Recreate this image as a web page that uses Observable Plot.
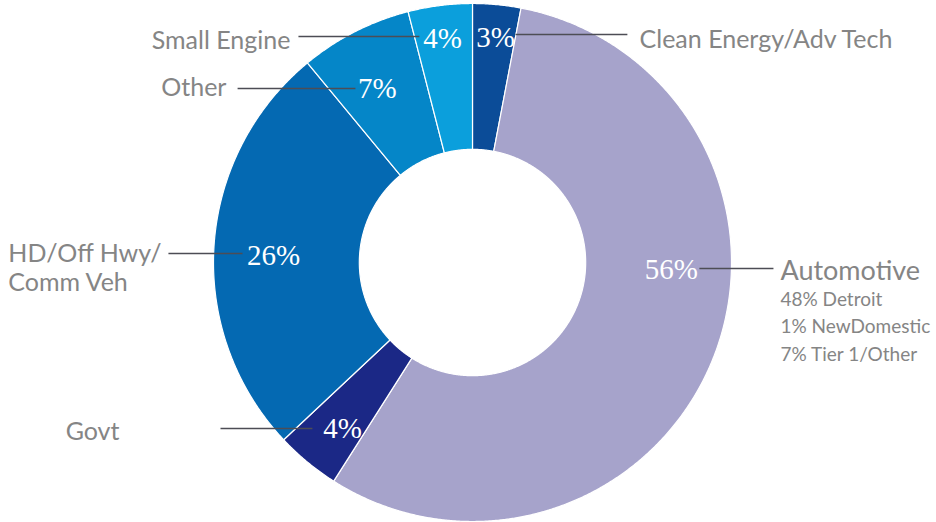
<!DOCTYPE html>
<html>
<head>
<meta charset="utf-8">
<script src="https://cdn.jsdelivr.net/npm/d3@7"></script>
<script src="https://cdn.jsdelivr.net/npm/@observablehq/plot@0.6"></script>
<style>
  html, body { margin: 0; padding: 0; background: #ffffff; }
  #chart svg { display: block; }
</style>
</head>
<body>
<div id="chart"></div>
<script>
// ---- Data (clockwise from 12 o'clock) ----
const categories = ["Clean Energy/Adv Tech", "Automotive", "Govt", "HD/Off Hwy/Comm Veh", "Other", "Small Engine"];
const shares = [3, 56, 4, 26, 7, 4];
const sliceColors = ["#0b4c98", "#a6a3cb", "#1b2886", "#0469b2", "#0586c8", "#0b9fdc"];
const automotiveSubNames = ["Detroit", "NewDomestic", "Tier 1/Other"];
const automotiveSubShares = [48, 1, 7];

// ---- Layout (unit-circle coordinates, outer radius = 1) ----
const innerRadius = 0.437;
const layout = {
  "Clean Energy/Adv Tech": {pct: [0.089, 0.869], line: [0.166, 0.598, 0.880], label: [0.645, 0.861], anchor: "start", lines: ["Clean Energy/Adv Tech"]},
  "Automotive":            {pct: [0.768, -0.029], line: [0.876, 1.162, -0.023], label: [1.189, -0.035], anchor: "start", lines: ["Automotive"]},
  "Govt":                  {pct: [-0.502, -0.641], line: [-0.973, -0.618, -0.641], label: [-1.363, -0.656], anchor: "end", lines: ["Govt"]},
  "HD/Off Hwy/Comm Veh":   {pct: [-0.768, 0.027], line: [-1.174, -0.888, 0.035], label: [-1.792, 0.031], anchor: "start", lines: ["HD/Off Hwy/", "Comm Veh"]},
  "Other":                 {pct: [-0.367, 0.672], line: [-0.907, -0.452, 0.672], label: [-0.950, 0.672], anchor: "end", lines: ["Other"]},
  "Small Engine":          {pct: [-0.116, 0.865], line: [-0.672, -0.205, 0.873], label: [-0.703, 0.857], anchor: "end", lines: ["Small Engine"]}
};
const lineStep = 0.112;      // vertical gap between stacked label lines (units)
const subStart = -0.143, subStep = -0.106;

// ---- Build slice polygons from the shares ----
const arcs = d3.pie().sort(null).value(d => d)(shares);
const slicePts = [];
arcs.forEach((a, i) => {
  const n = Math.max(4, Math.ceil((a.endAngle - a.startAngle) / 0.005));
  for (let k = 0; k <= n; k++) {
    const t = a.startAngle + (a.endAngle - a.startAngle) * k / n;
    slicePts.push({name: categories[i], x: Math.sin(t), y: Math.cos(t)});
  }
  for (let k = n; k >= 0; k--) {
    const t = a.startAngle + (a.endAngle - a.startAngle) * k / n;
    slicePts.push({name: categories[i], x: innerRadius * Math.sin(t), y: innerRadius * Math.cos(t)});
  }
});

const pctLabels = categories.map((c, i) => ({name: c, text: shares[i] + "%", x: layout[c].pct[0], y: layout[c].pct[1]}));
const leaders = categories.map(c => ({x1: layout[c].line[0], x2: layout[c].line[1], y: layout[c].line[2]}));
const catLabels = [];
categories.forEach(c => {
  layout[c].lines.forEach((t, j) => catLabels.push({
    text: t, x: layout[c].label[0], y: layout[c].label[1] - j * lineStep, anchor: layout[c].anchor,
    big: c === "Automotive"
  }));
});
const subLabels = automotiveSubNames.map((n, j) => ({
  text: automotiveSubShares[j] + "% " + n,
  x: layout["Automotive"].label[0], y: subStart + j * subStep
}));

const chart = Plot.plot({
  width: 936,
  height: 522,
  margin: 0,
  style: {background: "#ffffff", overflow: "visible"},
  x: {domain: [-1, 1], range: [213, 731], axis: null},
  y: {domain: [-1, 1], range: [521, 3], axis: null},
  color: {domain: categories, range: sliceColors},
  marks: [
    Plot.line(slicePts, {x: "x", y: "y", z: "name", fill: "name", stroke: "#ffffff", strokeWidth: 1.2, curve: "linear-closed"}),
    Plot.link(leaders, {x1: "x1", x2: "x2", y1: "y", y2: "y", stroke: "#4d4d55", strokeWidth: 1.5}),
    Plot.text(pctLabels, {x: "x", y: "y", text: "text", fill: "#ffffff", fontSize: 29, fontFamily: "Liberation Serif", textAnchor: "middle"}),
    Plot.text(catLabels.filter(d => d.anchor === "end" && !d.big), {x: "x", y: "y", text: "text", textAnchor: "end", fill: "#858585", fontSize: 25, fontFamily: "Lato"}),
    Plot.text(catLabels.filter(d => d.anchor === "start" && !d.big), {x: "x", y: "y", text: "text", textAnchor: "start", fill: "#858585", fontSize: 25, fontFamily: "Lato"}),
    Plot.text(catLabels.filter(d => d.big), {x: "x", y: "y", text: "text", textAnchor: "start", fill: "#858585", fontSize: 27, fontFamily: "Lato"}),
    Plot.text(subLabels, {x: "x", y: "y", text: "text", textAnchor: "start", fill: "#858585", fontSize: 19, fontFamily: "Lato"})
  ]
});
document.getElementById("chart").appendChild(chart);
</script>
</body>
</html>
